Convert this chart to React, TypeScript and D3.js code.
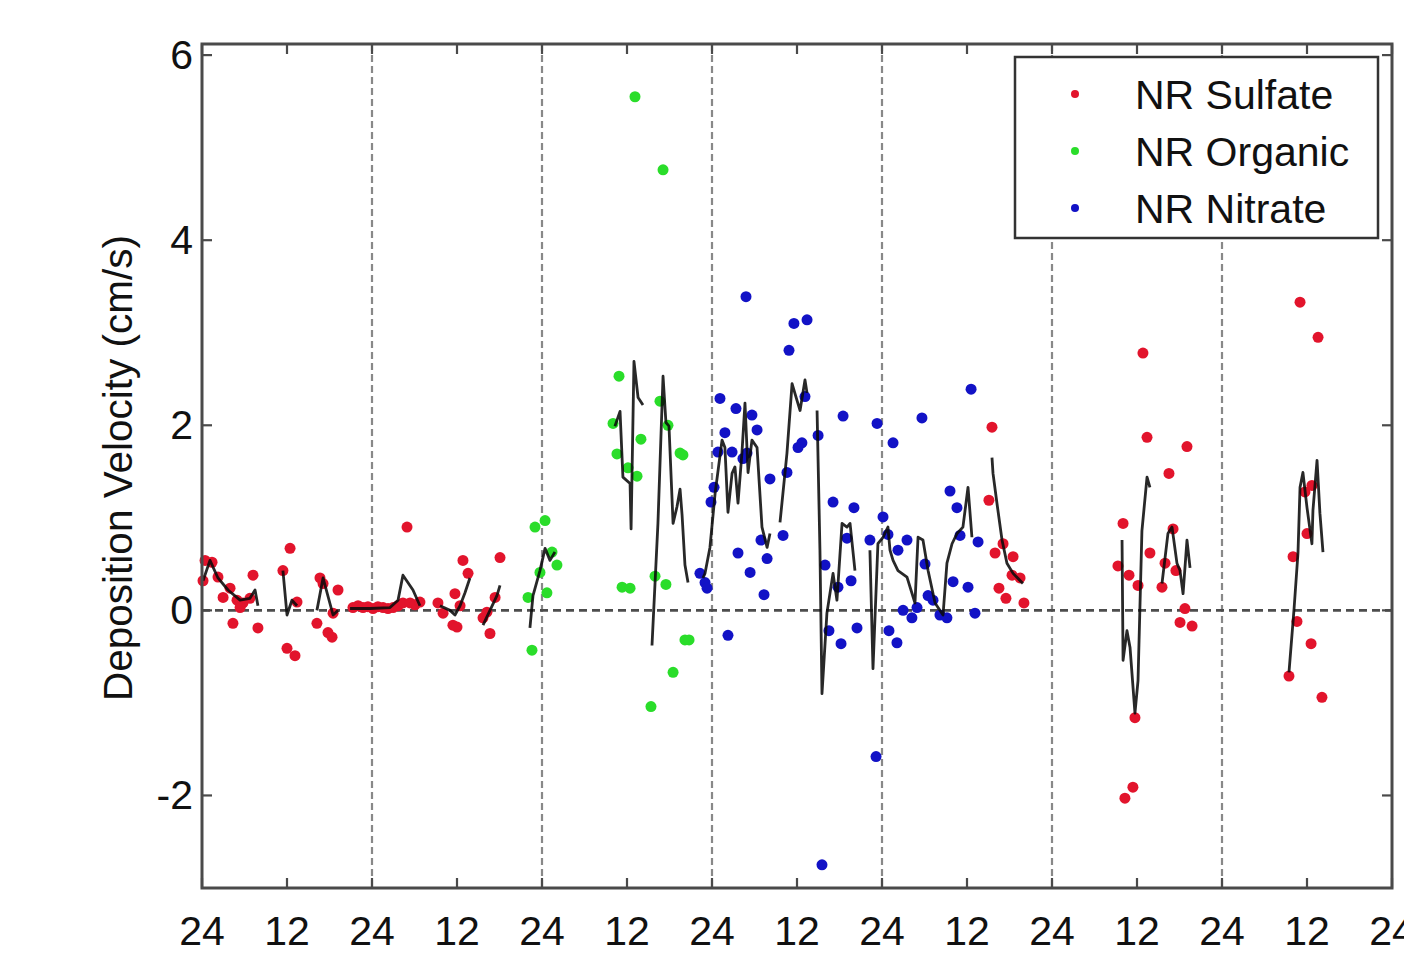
import { useEffect } from 'react';
import * as d3 from 'd3';

// [day, deposition velocity cm/s]
const sulfate: [number, number][] = [
  [0.018, 0.54], [0.059, 0.52], [0.006, 0.32], [0.094, 0.36], [0.165, 0.24], [0.124, 0.14],
  [0.206, 0.11], [0.241, 0.08], [0.224, 0.03], [0.282, 0.13], [0.3, 0.38], [0.182, -0.14],
  [0.329, -0.19], [0.476, 0.43], [0.518, 0.67], [0.559, 0.09], [0.5, -0.41], [0.547, -0.49],
  [0.694, 0.35], [0.712, 0.29], [0.8, 0.22], [0.676, -0.14], [0.741, -0.24], [0.765, -0.29],
  [0.771, -0.03], [0.888, 0.03], [0.918, 0.05], [0.947, 0.03], [0.976, 0.04], [1.006, 0.02],
  [1.035, 0.04], [1.065, 0.03], [1.094, 0.02], [1.124, 0.03], [1.153, 0.05], [1.182, 0.08],
  [1.224, 0.08], [1.253, 0.06], [1.282, 0.09], [1.206, 0.9], [1.388, 0.08], [1.418, -0.03],
  [1.476, -0.16], [1.5, -0.18], [1.488, 0.18], [1.535, 0.54], [1.565, 0.4], [1.518, 0.05],
  [1.653, -0.08], [1.694, -0.25], [1.724, 0.14], [1.753, 0.57], [1.676, -0.02],
  [4.647, 1.98], [4.629, 1.19], [4.665, 0.62], [4.771, 0.58], [4.712, 0.72], [4.765, 0.38],
  [4.812, 0.35], [4.688, 0.24], [4.729, 0.13], [4.835, 0.08],
  [5.535, 2.78], [5.559, 1.87], [5.794, 1.77], [5.688, 1.48], [5.418, 0.94], [5.576, 0.62],
  [5.712, 0.88], [5.665, 0.51], [5.729, 0.43], [5.388, 0.48], [5.453, 0.38], [5.506, 0.27],
  [5.647, 0.25], [5.782, 0.02], [5.753, -0.13], [5.824, -0.17], [5.488, -1.16], [5.476, -1.91],
  [5.429, -2.03],
  [6.459, 3.33], [6.565, 2.95], [6.488, 1.28], [6.529, 1.35], [6.5, 0.83], [6.418, 0.58],
  [6.441, -0.12], [6.524, -0.36], [6.394, -0.71], [6.588, -0.94],
];

const organic: [number, number][] = [
  [1.959, 0.9], [2.018, 0.97], [2.059, 0.63], [2.088, 0.49], [1.988, 0.41], [2.029, 0.19],
  [1.918, 0.14], [1.941, -0.43],
  [2.547, 5.55], [2.712, 4.76], [2.453, 2.53], [2.418, 2.02], [2.441, 1.69], [2.582, 1.85],
  [2.506, 1.54], [2.559, 1.45], [2.694, 2.26], [2.741, 2.0], [2.812, 1.7], [2.829, 1.68],
  [2.471, 0.25], [2.518, 0.24], [2.665, 0.37], [2.729, 0.28], [2.841, -0.32], [2.865, -0.32],
  [2.771, -0.67], [2.641, -1.04],
];

const nitrate: [number, number][] = [
  [3.2, 3.39], [3.482, 3.1], [3.559, 3.14], [3.453, 2.81], [3.047, 2.29], [3.141, 2.18],
  [3.235, 2.11], [3.076, 1.92], [3.265, 1.95], [3.035, 1.71], [3.118, 1.71], [3.182, 1.64],
  [3.206, 1.7], [3.547, 2.31], [3.529, 1.81], [3.506, 1.76], [3.441, 1.49], [3.341, 1.42],
  [3.624, 1.89], [3.771, 2.1], [3.971, 2.02], [3.012, 1.33], [2.994, 1.17], [3.712, 1.17],
  [3.835, 1.11], [3.288, 0.76], [3.418, 0.81], [3.324, 0.56], [3.153, 0.62], [3.224, 0.41],
  [3.306, 0.17], [2.929, 0.4], [2.959, 0.3], [2.971, 0.24], [3.665, 0.49], [3.741, 0.25],
  [3.818, 0.32], [3.794, 0.78], [3.929, 0.76], [3.094, -0.27], [3.688, -0.22], [3.759, -0.36],
  [3.853, -0.19], [3.647, -2.75], [3.965, -1.58], [4.524, 2.39], [4.235, 2.08], [4.065, 1.81],
  [4.4, 1.29], [4.441, 1.11], [4.459, 0.81], [4.565, 0.74], [4.006, 1.01], [4.035, 0.82],
  [4.147, 0.76], [4.094, 0.65], [4.253, 0.5], [4.418, 0.31], [4.506, 0.25], [4.271, 0.16],
  [4.3, 0.11], [4.124, 0.0], [4.176, -0.08], [4.206, 0.03], [4.341, -0.05], [4.382, -0.08],
  [4.547, -0.03], [4.041, -0.22], [4.088, -0.35],
];

// running mean, broken into segments where data is missing
const runningMean: [number, number][][] = [
  [[0.006, 0.32], [0.047, 0.54], [0.094, 0.35], [0.153, 0.22], [0.224, 0.11], [0.282, 0.13], [0.312, 0.22], [0.329, 0.05]],
  [[0.476, 0.43], [0.5, -0.05], [0.529, 0.11], [0.559, 0.05]],
  [[0.676, 0.0], [0.712, 0.35], [0.771, -0.05], [0.8, 0.0]],
  [[0.871, 0.02], [0.988, 0.02], [1.106, 0.03], [1.153, 0.11], [1.182, 0.38], [1.241, 0.22], [1.282, 0.05]],
  [[1.4, 0.05], [1.459, 0.0], [1.488, -0.05], [1.518, 0.05], [1.547, 0.19], [1.576, 0.35]],
  [[1.653, -0.16], [1.694, 0.0], [1.735, 0.16], [1.753, 0.27]],
  [[1.929, -0.19], [1.947, 0.16], [1.988, 0.43], [2.018, 0.67], [2.047, 0.54], [2.076, 0.63]],
  [[2.429, 1.99], [2.459, 2.15], [2.476, 1.44], [2.518, 1.37], [2.524, 0.88], [2.541, 2.69], [2.565, 2.3], [2.594, 2.22]],
  [[2.647, -0.38], [2.682, 0.94], [2.712, 2.53], [2.729, 2.03], [2.747, 1.99], [2.771, 0.94], [2.794, 1.12], [2.812, 1.31], [2.824, 1.03], [2.841, 0.49], [2.859, 0.3]],
  [[2.947, 0.35], [2.959, 0.4], [2.988, 0.68], [3.018, 1.26], [3.059, 1.84], [3.076, 1.76], [3.094, 1.06], [3.118, 1.48], [3.135, 1.55], [3.153, 1.16], [3.176, 1.7], [3.194, 2.24], [3.212, 1.49], [3.235, 1.84], [3.265, 1.76], [3.294, 0.9], [3.324, 0.68], [3.341, 0.83]],
  [[3.4, 0.95], [3.441, 1.7], [3.471, 2.45], [3.5, 2.27], [3.518, 2.16], [3.547, 2.49], [3.559, 2.35]],
  [[3.618, 2.16], [3.635, 0.65], [3.647, -0.9], [3.676, -0.03], [3.712, 0.4], [3.735, 0.11], [3.765, 0.94], [3.794, 0.9], [3.812, 0.94], [3.841, 0.43]],
  [[3.929, 0.65], [3.947, -0.63], [3.976, 0.72], [4.006, 0.79], [4.035, 0.9], [4.047, 0.65], [4.065, 0.54], [4.094, 0.43], [4.147, 0.36], [4.194, 0.08], [4.212, 0.79], [4.241, 0.76], [4.271, 0.43], [4.312, 0.08], [4.359, -0.05], [4.382, 0.51], [4.412, 0.72], [4.441, 0.83], [4.476, 0.9], [4.506, 1.33], [4.529, 0.79]],
  [[4.647, 1.65], [4.653, 1.48], [4.676, 1.16], [4.706, 0.76], [4.735, 0.51], [4.771, 0.4], [4.829, 0.29]],
  [[5.412, 0.76], [5.418, -0.54], [5.441, -0.22], [5.459, -0.4], [5.488, -1.11], [5.506, -0.76], [5.529, 0.86], [5.559, 1.44], [5.576, 1.33]],
  [[5.647, 0.29], [5.682, 0.83], [5.706, 0.9], [5.735, 0.51], [5.753, 0.43], [5.771, 0.18], [5.794, 0.76], [5.812, 0.46]],
  [[6.394, -0.67], [6.424, 0.02], [6.447, 0.62], [6.459, 1.33], [6.476, 1.49], [6.5, 1.11], [6.529, 0.72], [6.535, 1.08], [6.559, 1.62], [6.576, 1.05], [6.594, 0.63]],
];

const xTickValues = d3.range(0, 7.01, 0.5);
const xTickLabels = ['24', '12', '24', '12', '24', '12', '24', '12', '24', '12', '24', '12', '24', '12', '24'];
const yTickValues = [-2, 0, 2, 4, 6];
const dayLines = [1, 2, 3, 4, 5, 6];
const legendItems = [
  { label: 'NR Sulfate', color: '#e2142c' },
  { label: 'NR Organic', color: '#2add2a' },
  { label: 'NR Nitrate', color: '#1212c6' },
];

const FONT = '"Liberation Sans", Arial, Helvetica, sans-serif';
const AXIS = '#4a4a4a';

const plot = { left: 202, right: 1392, top: 44, bottom: 888 };

export default function App() {
  useEffect(() => {
    document.body.style.margin = '0';
  }, []);

  const x = d3.scaleLinear().domain([0, 7]).range([plot.left, plot.right]);
  const y = d3.scaleLinear().domain([-3, 6.12]).range([plot.bottom, plot.top]);
  const line = d3.line<[number, number]>().x((d) => x(d[0])).y((d) => y(d[1]));

  const series = [
    { data: sulfate, color: legendItems[0].color },
    { data: organic, color: legendItems[1].color },
    { data: nitrate, color: legendItems[2].color },
  ];

  const tickLen = 10;

  return (
    <svg width={1404} height={960} style={{ display: 'block', background: '#fff' }} fontFamily={FONT}>
      {/* day boundaries */}
      {dayLines.map((d) => (
        <line key={d} x1={x(d)} x2={x(d)} y1={plot.top} y2={plot.bottom}
          stroke="#888" strokeWidth={2.2} strokeDasharray="7,4" />
      ))}
      {/* zero reference */}
      <line x1={plot.left} x2={plot.right} y1={y(0)} y2={y(0)}
        stroke="#4d4d4d" strokeWidth={2.8} strokeDasharray="8,5" />

      {/* scatter points */}
      {series.map((s, i) => (
        <g key={i} fill={s.color}>
          {s.data.map((d, j) => (
            <circle key={j} cx={x(d[0])} cy={y(d[1])} r={5.5} />
          ))}
        </g>
      ))}

      {/* running mean */}
      <g fill="none" stroke="#0a0a0a" strokeWidth={2.8} strokeLinejoin="round" strokeOpacity={0.88}>
        {runningMean.map((seg, i) => (
          <path key={i} d={line(seg) ?? ''} />
        ))}
      </g>

      {/* axes box */}
      <rect x={plot.left} y={plot.top} width={plot.right - plot.left} height={plot.bottom - plot.top}
        fill="none" stroke={AXIS} strokeWidth={3} />
      {xTickValues.map((t, i) => (
        <g key={i}>
          <line x1={x(t)} x2={x(t)} y1={plot.bottom} y2={plot.bottom - tickLen} stroke={AXIS} strokeWidth={2.2} />
          <line x1={x(t)} x2={x(t)} y1={plot.top} y2={plot.top + tickLen} stroke={AXIS} strokeWidth={2.2} />
          <text x={x(t)} y={945} textAnchor="middle" fontSize={41} fill="#111">{xTickLabels[i]}</text>
        </g>
      ))}
      {yTickValues.map((t) => (
        <g key={t}>
          <line x1={plot.left} x2={plot.left + tickLen} y1={y(t)} y2={y(t)} stroke={AXIS} strokeWidth={2.2} />
          <line x1={plot.right} x2={plot.right - tickLen} y1={y(t)} y2={y(t)} stroke={AXIS} strokeWidth={2.2} />
          <text x={193} y={y(t)} textAnchor="end" dominantBaseline="central" fontSize={41} fill="#111">{t}</text>
        </g>
      ))}
      <text transform="translate(118,468) rotate(-90)" textAnchor="middle" dominantBaseline="central"
        fontSize={40.5} fill="#111">Deposition Velocity (cm/s)</text>

      {/* legend */}
      <rect x={1015} y={57} width={363} height={181} fill="#fff" stroke="#333" strokeWidth={2.5} />
      {legendItems.map((item, i) => (
        <g key={item.label}>
          <circle cx={1075} cy={94 + i * 57} r={4} fill={item.color} />
          <text x={1135} y={95 + i * 57} dominantBaseline="central" fontSize={41} fill="#111">{item.label}</text>
        </g>
      ))}
    </svg>
  );
}
